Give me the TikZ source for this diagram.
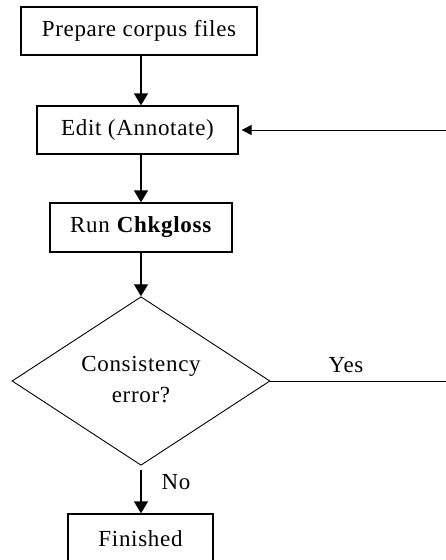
\documentclass[tikz,border=0pt]{standalone}
\usepackage{fontspec}
\setmainfont{Liberation Serif}[LetterSpace=3]
\usetikzlibrary{shapes.geometric,arrows.meta}
\begin{document}
\begin{tikzpicture}[x=1pt,y=-1pt,
  box/.style={draw,line width=1.3pt,inner sep=0pt,font=\fontsize{23}{26}\selectfont},
  decision/.style={draw,diamond,line width=0.9pt,inner sep=0pt,align=center,font=\fontsize{23}{33}\selectfont},
  flow/.style={line width=1.3pt,-{Triangle[length=12pt,width=14pt]}},
  lbl/.style={font=\fontsize{23}{26}\selectfont,inner sep=0pt}]
\useasboundingbox (0,0) rectangle (446,560);
\node[box,minimum width=236pt,minimum height=48pt] (prep) at (139,31) {Prepare corpus files};
\node[box,minimum width=201pt,minimum height=48pt] (edit) at (137.5,130) {Edit (Annotate)};
\node[box,minimum width=182pt,minimum height=49pt] (run) at (141,227.5) {Run \textbf{Chkgloss}};
\node[decision,minimum width=258pt,minimum height=159pt] (dec) at (141,381) {\raisebox{3pt}{Consistency}\\[-2pt]\raisebox{3pt}{error?}};
\node[box,minimum width=145pt,minimum height=50pt] (fin) at (140.5,539) {Finished};
\coordinate (fbR) at (446,130);
\coordinate (yesR) at (446,381);
\draw[flow] (prep.south -| dec.north) -- (edit.north -| dec.north);
\draw[flow] (edit.south -| dec.north) -- (run.north -| dec.north);
\draw[flow] (run.south -| dec.north) -- (dec.north);
\draw[flow] ([yshift=-4pt]dec.south) -- (fin.north -| dec.south);
\draw[flow,line width=1pt,-{Triangle[length=10pt,width=10pt]}] (fbR) -- ([xshift=3pt]edit.east |- fbR);
\draw[line width=1pt] (dec.east) -- (dec.east -| yesR);
\node[lbl] (yes) at (346,365) {Yes};
\node[lbl] (no) at (176,482) {No};
\end{tikzpicture}
\end{document}
